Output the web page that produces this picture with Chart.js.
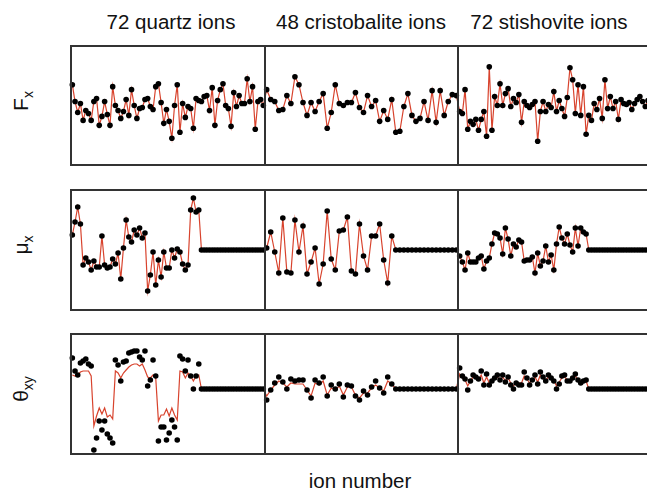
<!DOCTYPE html>
<html>
<head>
<meta charset="utf-8">
<script src="https://cdn.jsdelivr.net/npm/chart.js@4.4.1/dist/chart.umd.min.js"></script>
<style>
body{margin:0;width:647px;height:493px;overflow:hidden;background:#fff;position:relative;font-family:"Liberation Sans",Arial,sans-serif;color:#111}
.row{position:absolute;left:0}
.title{position:absolute;top:12px;font-size:20.5px;line-height:20px;transform:translateX(-50%);white-space:nowrap}
.ylab{position:absolute;left:24px;font-size:21px;line-height:21px;transform:translate(-50%,-50%) rotate(-90deg);white-space:nowrap}
.ylab sub{font-size:14px;vertical-align:-5px}
</style>
</head>
<body>

<div class="title" style="left:171px">72 quartz ions</div>
<div class="title" style="left:361px">48 cristobalite ions</div>
<div class="title" style="left:549px">72 stishovite ions</div>

<div class="ylab" style="top:101px">F<sub>x</sub></div>
<div class="ylab" style="top:245px">μ<sub>x</sub></div>
<div class="ylab" style="top:389px">θ<sub>xy</sub></div>

<div class="title" style="left:360px;top:471px">ion number</div>

<canvas id="fx" class="row"></canvas>
<canvas id="mu" class="row"></canvas>
<canvas id="th" class="row"></canvas>

<script>
const sections = ["72 quartz ions", "48 cristobalite ions", "72 stishovite ions"]

// F_x
const fxQuartz = [21,4,-7,2,-15,-5,-8,-15,4,7,-20,-11,4,-9,-20,19,0,-5,-13,-6,6,-10,16,0,-13,-3,-2,6,7,-1,-4,19,22,3,-18,-4,-16,-33,0,21,-27,2,-12,-1,-3,-23,7,5,4,9,10,-5,18,-20,5,16,22,0,-3,-21,13,-1,10,2,2,27,4,19,-24,4,6,0]
const fxCristobalite = [16,6,4,-5,-4,10,2,29,21,3,-10,3,-6,4,12,-23,-7,21,2,0,3,3,13,-2,-7,10,-1,5,-16,-5,-14,6,-27,-26,-1,12,-10,-16,-13,4,-15,15,-17,15,-10,4,11,10]
const fxStishovite = [-6,-8,16,-24,-16,-19,-14,-25,-14,-6,-31,39,-25,9,0,22,0,12,17,-1,7,3,11,-17,4,0,-2,1,4,-36,-6,4,-6,1,-2,14,-6,5,-3,-11,8,38,26,-8,21,-10,19,-29,-10,-15,2,-4,7,-13,26,-3,9,-3,4,-14,6,2,1,3,-4,2,6,9,4,-1,5,3]

// mu_x
const muQuartz = [15,28,43,26,-15,-8,-12,-20,-11,-17,-17,14,-15,-18,-17,-9,-14,-3,-29,2,30,13,8,20,15,22,12,17,-41,-25,-2,-35,-10,-27,-2,-18,-18,0,-8,1,-2,-14,-20,-15,40,52,38,40,0,0,0,0,0,0,0,0,0,0,0,0,0,0,0,0,0,0,0,0,0,0,0,0]
const muCristobalite = [2,18,-2,-23,32,-22,-23,30,-2,24,-24,-12,2,-34,-14,39,-9,-20,19,20,33,-21,-24,26,-6,-20,14,14,26,-10,-33,14,0,0,0,0,0,0,0,0,0,0,0,0,0,0,0,0]
const muStishovite = [-6,-12,-20,-3,-12,-12,-12,-8,-6,-19,-11,-8,6,17,16,12,-4,22,11,-6,6,3,10,8,-11,-10,-10,-7,-23,-3,-16,-11,4,-12,-5,-20,6,23,12,6,16,5,-2,22,4,22,18,16,0,0,0,0,0,0,0,0,0,0,0,0,0,0,0,0,0,0,0,0,0,0,0,0]

// theta_xy : black points and red curve
const thQuartz = [36,23,19,31,33,35,30,28,-56,-44,-27,-36,-27,-40,-44,-49,34,29,13,32,33,41,42,43,43,37,34,43,8,14,34,18,-47,-33,-33,-46,-39,-26,-33,-46,38,35,23,34,18,5,18,30,5,5,5,5,5,5,5,5,5,5,5,5,5,5,5,5,5,5,5,5,5,5,5,5]
const thQuartzRed = [19,18,19,22,23,23,23,18,-32,-22,-14,-20,-14,-23,-21,-25,23,21,16,21,24,27,29,30,30,28,30,24,17,16,19,16,-27,-21,-21,-15,-22,-14,-21,-26,23,22,16,21,18,13,18,19,5,5,5,5,5,5,5,5,5,5,5,5,5,5,5,5,5,5,5,5,5,5,5,5]
const thCristobalite = [-6,4,11,17,12,5,15,13,14,14,4,-4,14,11,17,-2,9,5,10,-3,9,8,-2,-6,3,-1,7,13,6,1,17,10,5,5,5,5,5,5,5,5,5,5,5,5,5,5,5,5]
const thCristobaliteRed = [-2,4,9,13,11,7,11,10,10,10,4,-2,11,9,13,-1,6,4,8,-1,7,7,-1,-4,1,1,6,9,6,3,13,10,5,5,5,5,5,5,5,5,5,5,5,5,5,5,5,5]
const thStishovite = [26,18,15,4,13,19,17,15,23,9,20,9,13,16,19,14,19,12,17,9,5,11,9,9,22,16,9,14,19,10,22,17,13,19,16,13,5,10,18,19,13,13,16,20,14,11,13,14,5,5,5,5,5,5,5,5,5,5,5,5,5,5,5,5,5,5,5,5,5,5,5,5]
const thStishoviteRed = [20,16,14,8,13,17,16,14,19,11,17,11,14,15,17,14,17,13,16,11,8,12,11,11,18,15,11,14,17,12,19,16,14,17,15,14,8,12,16,17,14,14,15,18,14,12,13,13,5,5,5,5,5,5,5,5,5,5,5,5,5,5,5,5,5,5,5,5,5,5,5,5]

// each section gets the same width, ions spread evenly inside it
function toPoints(parts){
let pts = []
parts.forEach((arr, s) => {
arr.forEach((v, i) => pts.push({x: s + (i + 0.5) / arr.length, y: v}))
})
return pts
}

const frame = {
id: "frame",
afterDatasetsDraw(chart){
let ctx = chart.ctx
let a = chart.chartArea
let x = chart.scales.x
ctx.save()
ctx.strokeStyle = "#333"
ctx.lineWidth = 2
ctx.strokeRect(a.left, a.top, a.right - a.left, a.bottom - a.top)
ctx.beginPath()
;[1, 2].forEach(v => {
let px = Math.round(x.getPixelForValue(v))
ctx.moveTo(px, a.top)
ctx.lineTo(px, a.bottom)
})
ctx.stroke()
ctx.restore()
}
}

function drawRow(id, top, height, dots, curve){
let c = document.getElementById(id)
c.width = 660
c.height = height + 8
c.style.top = (top - 4) + "px"

new Chart(c.getContext("2d"), {
type: "line",
data: {
datasets: [
{
data: dots,
showLine: false,
pointRadius: 2.8,
pointBackgroundColor: "#000",
pointBorderWidth: 0,
clip: false,
order: 0
},
{
data: curve,
borderColor: "#d8432d",
borderWidth: 1.2,
pointRadius: 0,
tension: 0,
clip: false,
order: 1
}
]
},
options: {
responsive: false,
animation: false,
events: [],
layout: {padding: {left: 71, right: 8, top: 4, bottom: 4}},
plugins: {legend: {display: false}, tooltip: {enabled: false}},
scales: {
x: {type: "linear", min: 0, max: 3, display: false},
y: {min: -60, max: 60, display: false}
}
},
plugins: [frame]
})
}

let fxPts = toPoints([fxQuartz, fxCristobalite, fxStishovite])
let muPts = toPoints([muQuartz, muCristobalite, muStishovite])

drawRow("fx", 46, 119, fxPts, fxPts)
drawRow("mu", 190, 120, muPts, muPts)
drawRow("th", 334, 120,
toPoints([thQuartz, thCristobalite, thStishovite]),
toPoints([thQuartzRed, thCristobaliteRed, thStishoviteRed]))
</script>
</body>
</html>
